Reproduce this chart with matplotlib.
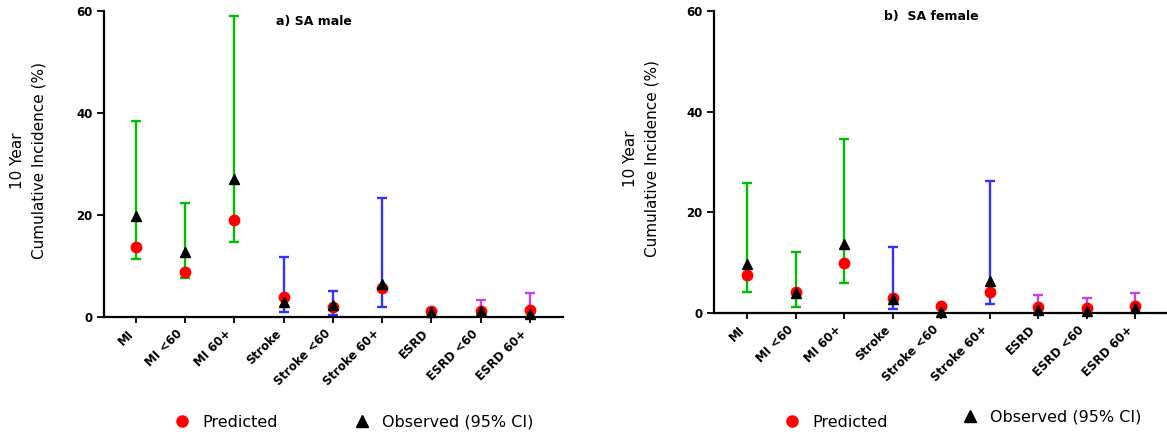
import matplotlib.pyplot as plt
import matplotlib.transforms as mtransforms
import numpy as np
from matplotlib.lines import Line2D

plt.rcParams['font.family'] = ['DejaVu Sans']

categories = ['MI', 'MI <60', 'MI 60+', 'Stroke', 'Stroke <60', 'Stroke 60+',
              'ESRD', 'ESRD <60', 'ESRD 60+']
group_colors = ['#00bf00'] * 3 + ['#3333ff'] * 3 + ['#c046e8'] * 3

# a) SA male
male_pred = [13.7, 8.8, 19.0, 3.9, 2.0, 5.6, 1.1, 1.2, 1.3]
male_obs = [19.7, 12.7, 27.1, 2.9, 2.3, 6.5, 1.0, 1.1, 0.6]
male_lo = [11.3, 7.6, 14.7, 0.9, 0.3, 2.0, np.nan, 0.0, 0.0]
male_hi = [38.4, 22.4, 59.0, 11.7, 5.1, 23.3, np.nan, 3.3, 4.7]

# b) SA female
female_pred = [7.5, 4.2, 9.9, 3.0, 1.4, 4.1, 1.2, 1.0, 1.3]
female_obs = [9.6, 4.0, 13.6, 2.8, 0.2, 6.3, 0.5, 0.3, 0.9]
female_lo = [4.1, 1.1, 6.0, 0.7, np.nan, 1.8, 0.0, 0.0, 0.0]
female_hi = [25.8, 12.1, 34.6, 13.1, np.nan, 26.2, 3.6, 3.0, 4.0]

fig = plt.figure(figsize=(11.67, 4.36), dpi=100)
ax1 = fig.add_axes([0.0891, 0.2736, 0.3933, 0.7012])
ax2 = fig.add_axes([0.6118, 0.2828, 0.3882, 0.6920])


def draw_panel(ax, pred, obs, lo, hi, title, title_x, title_y, xlim, ylab_x):
    x = np.arange(len(categories))
    # CI bars around the observed values
    for i in range(len(categories)):
        if np.isnan(lo[i]):
            continue
        ax.errorbar(x[i], obs[i], yerr=[[obs[i] - lo[i]], [hi[i] - obs[i]]],
                    fmt='none', ecolor=group_colors[i], elinewidth=1.7,
                    capsize=3.3, capthick=1.7, zorder=2)
    ax.plot(x, pred, 'o', color='#ff0000', markersize=7.5, zorder=3, clip_on=False)
    ax.plot(x, obs, '^', color='black', markersize=7.5, zorder=4, clip_on=False)

    ax.set_xlim(*xlim)
    ax.set_ylim(0, 60)
    ax.set_yticks([0, 20, 40, 60])
    ax.set_xticks(x)
    ax.set_xticklabels(categories, rotation=45, ha='right', va='top',
                       fontweight='bold', fontsize=8.5)
    shift = mtransforms.ScaledTranslation(4 / 100, -3 / 100, fig.dpi_scale_trans)
    for lab in ax.get_xticklabels():
        lab.set_transform(lab.get_transform() + shift)
    for lab in ax.get_yticklabels():
        lab.set_fontweight('bold')
        lab.set_fontsize(8.5)
    ax.tick_params(axis='y', direction='out', length=5, width=1.3, pad=3)
    ax.tick_params(axis='x', direction='out', length=4.5, width=1.3, pad=3)
    ax.spines['top'].set_visible(False)
    ax.spines['right'].set_visible(False)
    ax.spines['left'].set_linewidth(1.6)
    ax.spines['bottom'].set_linewidth(1.6)
    ax.text(ylab_x, 0.51, '10 Year\nCumulative Incidence (%)', transform=ax.transAxes,
            rotation=90, ha='center', va='center', multialignment='center',
            fontsize=11, linespacing=1.5)
    ax.text(title_x, title_y, title, transform=ax.transAxes, ha='center',
            va='center', fontweight='bold', fontsize=9)


draw_panel(ax1, male_pred, male_obs, male_lo, male_hi, 'a) SA male',
           0.4575, 0.967, (-0.65, 8.67), -0.1645)
draw_panel(ax2, female_pred, female_obs, female_lo, female_hi, 'b)  SA female',
           0.479, 0.983, (-0.69, 8.65), -0.161)

pred_handle = Line2D([], [], marker='o', color='#ff0000', linestyle='none', markersize=8)
obs_handle = Line2D([], [], marker='^', color='black', linestyle='none', markersize=8)


def legend_item(handle, label, x, y):
    leg = fig.legend([handle], [label], loc='center left', bbox_to_anchor=(x, y),
                     frameon=False, fontsize=11.5, handletextpad=0.65,
                     borderaxespad=0, borderpad=0, handlelength=1.2)
    return leg


legend_item(pred_handle, 'Predicted', 0.1477, 1 - 422 / 436)
legend_item(obs_handle, 'Observed (95% CI)', 0.302, 1 - 422 / 436)
legend_item(pred_handle, 'Predicted', 0.6704, 1 - 422 / 436)
legend_item(obs_handle, 'Observed (95% CI)', 0.823, 1 - 417 / 436)

fig.savefig('out.png', dpi=100)
